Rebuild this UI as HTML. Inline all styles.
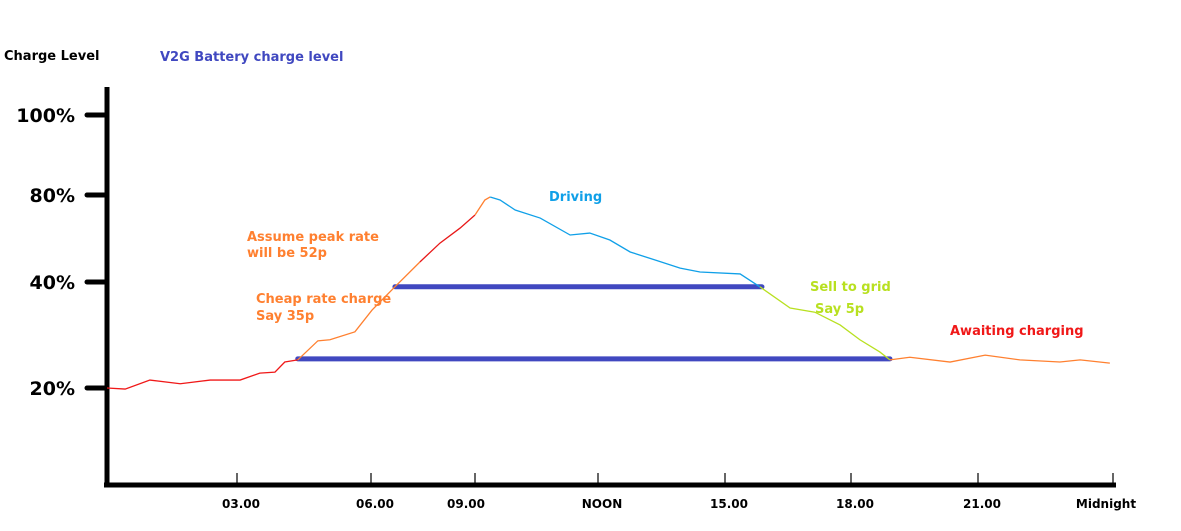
<!DOCTYPE html>
<html><head><meta charset="utf-8"><style>
body{margin:0;background:#fff;}
svg{display:block;font-family:"DejaVu Sans","Liberation Sans",sans-serif;}
</style></head><body>
<svg id="chart" width="1181" height="531">
<text x="4" y="60" font-size="13" font-weight="bold" fill="#000">Charge Level</text>
<text x="160" y="61" font-size="13" font-weight="bold" fill="#4048c0">V2G Battery charge level</text>
<g id="axes"></g>
<g id="bars"></g>
<g id="curve"></g>
<g font-size="13" font-weight="bold">
<text x="247" y="241" fill="#ff8030">Assume peak rate</text>
<text x="247" y="257" fill="#ff8030">will be 52p</text>
<text x="256" y="303" fill="#ff8030">Cheap rate charge</text>
<text x="256" y="320" fill="#ff8030">Say 35p</text>
<text x="549" y="201" fill="#10a0e8">Driving</text>
<text x="810" y="291" fill="#b8e020">Sell to grid</text>
<text x="815" y="313" fill="#b8e020">Say 5p</text>
<text x="950" y="335" fill="#f01818">Awaiting charging</text>
</g>
</svg>
<script>
const hours=[0,0.42,0.99,1.69,2.38,3.07,3.51,3.85,4.07,4.36,4.81,5.08,5.64,6.03,6.69,7.41,7.99,8.57,9.0,9.24,9.37,9.61,9.98,10.59,11.32,11.8,12.28,12.76,13.35,13.94,14.41,15.36,15.83,16.55,17.14,17.74,18.21,18.68,18.92,19.39,20.34,21.16,21.93,22.82,23.27,23.93];
const levels=[20,19.8,21.5,20.8,21.5,21.5,22.8,23,24.9,25.3,28.9,29.1,30.6,34.7,39.1,49.2,57.9,64.8,70.8,77.7,79.1,77.7,73.1,69.4,61.6,62.5,59.3,53.8,50.1,46.4,44.6,43.7,39.1,35.1,34.3,31.9,29.1,26.8,25.3,25.8,24.9,26.2,25.3,24.9,25.3,24.7];
const segmentEnds=[9,15,18,20,32,38,45];
const segmentColors=["#f01818","#ff8030","#e81818","#ff8030","#10a0e8","#b8e020","#ff8030"];
const yTickValues=[100,80,40,20];
const yTickLabels=["100%","80%","40%","20%"];
const xTickHours=[3,6,9,12,15,18,21,24];
const xTickLabels=["03.00","06.00","09.00","NOON","15.00","18.00","21.00","Midnight"];
const barStart=[6.69,4.36];
const barEnd=[15.88,18.92];
const barLevel=[39.1,25.5];
const xH=[0,3,6,9,12,15,18,21,24], xP=[107,237,371,475,598,725,851,978,1113];
const yV=[20,40,80,100], yP=[388,282,195,115];
function interp(v,a,b){for(let i=0;i<a.length-1;i++){if(v<=a[i+1]||i==a.length-2){return b[i]+(v-a[i])*(b[i+1]-b[i])/(a[i+1]-a[i]);}}}
const X=h=>interp(h,xH,xP), Y=v=>interp(v,yV,yP);
const NS="http://www.w3.org/2000/svg";
function mk(tag,attrs,parent){const e=document.createElementNS(NS,tag);for(const k in attrs)e.setAttribute(k,attrs[k]);parent.appendChild(e);return e;}
const axes=document.getElementById('axes');
let l=mk('line',{x1:107,y1:87,x2:107,y2:487,stroke:'#000','stroke-width':5},axes);


l=mk('line',{x1:104,y1:485,x2:1116,y2:485,stroke:'#000','stroke-width':5},axes);


yTickValues.forEach((v,i)=>{
 const t=mk('line',{x1:87,y1:Y(v),x2:107,y2:Y(v),stroke:'#000','stroke-width':5,'stroke-linecap':'round'},axes);
 
 
 const tx=mk('text',{x:75,y:Y(v)+7,'text-anchor':'end','font-size':19,'font-weight':'bold',fill:'#000'},axes);
 tx.textContent=yTickLabels[i];
 
 
});
xTickHours.forEach((h,i)=>{
 const x=X(h);
 const t=mk('line',{x1:x,y1:473,x2:x,y2:483,stroke:'#000','stroke-width':1.2},axes);
 
 
 const tx=mk('text',{x:h==24?x-7:(h==9?x-9:x+4),y:508,'text-anchor':'middle','font-size':12,'font-weight':'bold',fill:'#000'},axes);
 tx.textContent=xTickLabels[i];
 
 
});
const bars=document.getElementById('bars');
barLevel.forEach((v,i)=>{
 const b=mk('line',{x1:X(barStart[i]),y1:Y(v),x2:X(barEnd[i]),y2:Y(v),stroke:'#4048c0','stroke-width':5,'stroke-linecap':'round'},bars);
 
 
});
const curve=document.getElementById('curve');
let s=0;
segmentEnds.forEach((e,i)=>{
 const pts=[];for(let k=s;k<=e;k++)pts.push(X(hours[k])+','+Y(levels[k]));
 const p=mk('polyline',{points:pts.join(' '),fill:'none',stroke:segmentColors[i],'stroke-width':1.3},curve);
 
 
 s=e;
});
</script>
</body></html>
